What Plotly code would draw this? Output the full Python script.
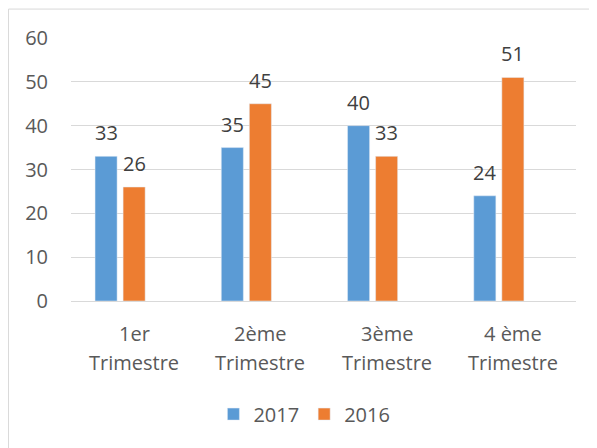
import plotly.graph_objects as go

categories = ["1er<br>Trimestre", "2ème<br>Trimestre", "3ème<br>Trimestre", "4 ème<br>Trimestre"]
values_2017 = [33, 35, 40, 24]
values_2016 = [26, 45, 33, 51]
series_names = ["2017", "2016"]
y_ticks = [0, 10, 20, 30, 40, 50, 60]

BLUE = "#5B9BD5"
ORANGE = "#ED7D31"
FONT = "Open Sans"
FS = 20

fig = go.Figure()
fig.add_trace(go.Bar(x=categories, y=values_2017, name=series_names[0], marker_color=BLUE))
fig.add_trace(go.Bar(x=categories, y=values_2016, name=series_names[1], marker_color=ORANGE))
# empty third series slot (as in the original Excel chart)
fig.add_trace(go.Bar(x=categories, y=[None] * len(categories), showlegend=False, hoverinfo="skip"))

annotations = []
slot = (1 - 1 / 3) / 3  # width of one bar slot in category units
for i, cat in enumerate(categories):
    for k, vals in enumerate([values_2017, values_2016]):
        annotations.append(dict(
            x=i + (k - 1) * slot, y=vals[i], xref="x", yref="y",
            text=str(vals[i]), showarrow=False, yanchor="bottom", yshift=8,
            font=dict(family=FONT, size=FS, color="#404040")))
    lines = cat.split("<br>")
    for j, line in enumerate(lines):
        annotations.append(dict(
            x=i, y=0, xref="x", yref="paper", text=line, showarrow=False,
            yanchor="middle", yshift=-32 - 29 * j,
            font=dict(family=FONT, size=FS, color="#595959")))

# page body has an 8px margin, so the figure is 8px smaller than the window
fig.update_layout(
    width=589, height=440,
    margin=dict(l=63, r=21, t=30, b=147),
    paper_bgcolor="white", plot_bgcolor="white",
    barmode="group", bargap=1 / 3, bargroupgap=0.214,
    font=dict(family=FONT, size=FS, color="#595959"),
    showlegend=True,
    legend=dict(orientation="h", x=0.282, xanchor="left", y=-0.43, yanchor="middle",
                font=dict(family=FONT, size=FS, color="#595959"), itemwidth=30),
    annotations=annotations,
    shapes=[dict(type="rect", xref="paper", yref="paper", x0=-0.1238, x1=1.2, y0=-0.7, y1=1.11,
                 line=dict(color="#D9D9D9", width=1), fillcolor="rgba(0,0,0,0)", layer="below")],
)
fig.update_xaxes(showticklabels=False, showline=True, linecolor="#D9D9D9", linewidth=1,
                 showgrid=False, ticks="")
fig.update_yaxes(range=[0, 60], tickvals=y_ticks, showgrid=True, gridcolor="#D9D9D9", gridwidth=1,
                 zeroline=False, showline=False, ticks="outside", ticklen=18, tickcolor="rgba(0,0,0,0)",
                 tickfont=dict(family=FONT, size=FS, color="#595959"))

fig.write_html("out.html")
